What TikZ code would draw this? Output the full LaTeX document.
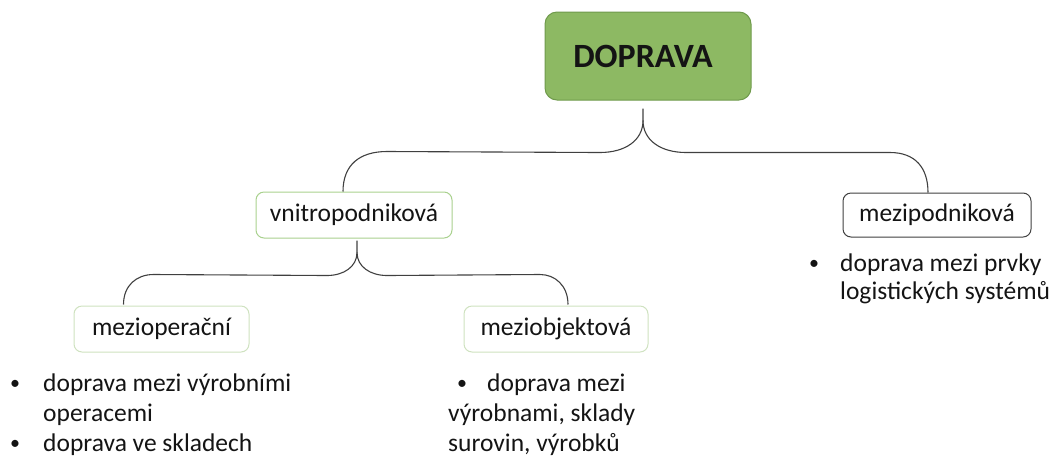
\documentclass[tikz,border=0pt]{standalone}
\usepackage{fontspec}
\setmainfont{Carlito}
\definecolor{dfill}{HTML}{8DB963}
\definecolor{dline}{HTML}{6F9A4C}
\definecolor{gline}{HTML}{A9D18E}
\definecolor{lgline}{HTML}{CFE2C0}
\definecolor{conn}{HTML}{404040}
\definecolor{txt}{HTML}{141414}
\begin{document}
\begin{tikzpicture}[x=1pt,y=-1pt,
  box/.style={draw, rounded corners=8pt, line width=1pt, fill=white, inner sep=0pt, text=txt,
    font=\fontsize{25.5}{30}\selectfont},
  item/.style={anchor=base west, inner sep=0pt, text=txt, font=\fontsize{25.5}{30}\selectfont},
  bul/.style={anchor=base west, inner sep=0pt, text=txt, font=\fontsize{20}{24}\selectfont},
  conline/.style={draw=conn, line width=1.1pt}]
\useasboundingbox (0,0) rectangle (1056,459);
\node[box, draw=dline, fill=dfill, rounded corners=12pt, minimum width=206pt, minimum height=88pt,
  font=\fontsize{34}{40}\selectfont\bfseries] (dop) at (648,56) {\hspace*{-10pt}DOPRAVA};
\node[box, draw=gline, minimum width=196pt, minimum height=46pt] (vni) at (354,215) {vnitropodniková};
\node[box, draw=conn, minimum width=188pt, minimum height=44pt] (mzp) at (937,215) {mezipodniková};
\node[box, draw=lgline, minimum width=175pt, minimum height=46pt] (mop) at (161.5,329) {mezioperační};
\node[box, draw=lgline, minimum width=184pt, minimum height=46pt] (mob) at (556,329) {meziobjektová};
% top brace
\coordinate (t1) at ([yshift=-8pt]dop.south);
\path[conline] ([xshift=-11pt]vni.north) .. controls ([xshift=-11pt,yshift=27pt]vni.north) and ([xshift=6pt,yshift=40pt]vni.north) .. ([xshift=33pt,yshift=40pt]vni.north)
  -- ([xshift=-48pt,yshift=-52pt]dop.south) .. controls ([xshift=-23pt,yshift=-52pt]dop.south) and ([xshift=-5pt,yshift=-40pt]dop.south) .. ([xshift=-5pt,yshift=-20pt]dop.south) -- ([xshift=-5pt]t1);
\path[conline] ([xshift=-5pt,yshift=-20pt]dop.south) .. controls ([xshift=-5pt,yshift=-40pt]dop.south) and ([xshift=13pt,yshift=-52pt]dop.south) .. ([xshift=38pt,yshift=-52pt]dop.south)
  -- ([xshift=-47pt,yshift=40pt]mzp.north) .. controls ([xshift=-22pt,yshift=40pt]mzp.north) and ([xshift=-9pt,yshift=25pt]mzp.north) .. ([xshift=-9pt]mzp.north);
% second brace
\coordinate (t2) at ([xshift=3pt,yshift=-2pt]vni.south);
\path[conline] ([xshift=-38pt,yshift=1pt]mop.north) .. controls ([xshift=-38pt,yshift=20pt]mop.north) and ([xshift=-25pt,yshift=31pt]mop.north) .. ([xshift=-8pt,yshift=31pt]mop.north)
  -- ([xshift=-27pt,yshift=-37pt]vni.south) .. controls ([xshift=-10pt,yshift=-37pt]vni.south) and ([xshift=3pt,yshift=-28pt]vni.south) .. ([xshift=3pt,yshift=-14pt]vni.south) -- (t2);
\path[conline] ([xshift=3pt,yshift=-14pt]vni.south) .. controls ([xshift=3pt,yshift=-28pt]vni.south) and ([xshift=16pt,yshift=-37pt]vni.south) .. ([xshift=33pt,yshift=-37pt]vni.south)
  -- ([xshift=-16pt,yshift=31pt]mob.north) .. controls ([xshift=-1pt,yshift=31pt]mob.north) and ([xshift=12pt,yshift=20pt]mob.north) .. ([xshift=12pt,yshift=1pt]mob.north);
% lists
\node[bul] (l1b) at (10,389) {•};
\node[item] (l1) at (43,391) {doprava mezi výrobními};
\node[item] (l2) at (43,421) {operacemi};
\node[bul] (l3b) at (10,449) {•};
\node[item] (l3) at (43,451) {doprava ve skladech};
\node[bul] (m1b) at (457,389) {•};
\node[item] (m1) at (487,391) {doprava mezi};
\node[item] (m2) at (448,421) {výrobnami, sklady};
\node[item] (m3) at (448,451) {surovin, výrobků};
\node[bul] (r1b) at (809,269) {•};
\node[item] (r1) at (840,271) {doprava mezi prvky};
\node[item] (r2) at (840,299) {logistických systémů};
\end{tikzpicture}
\end{document}
